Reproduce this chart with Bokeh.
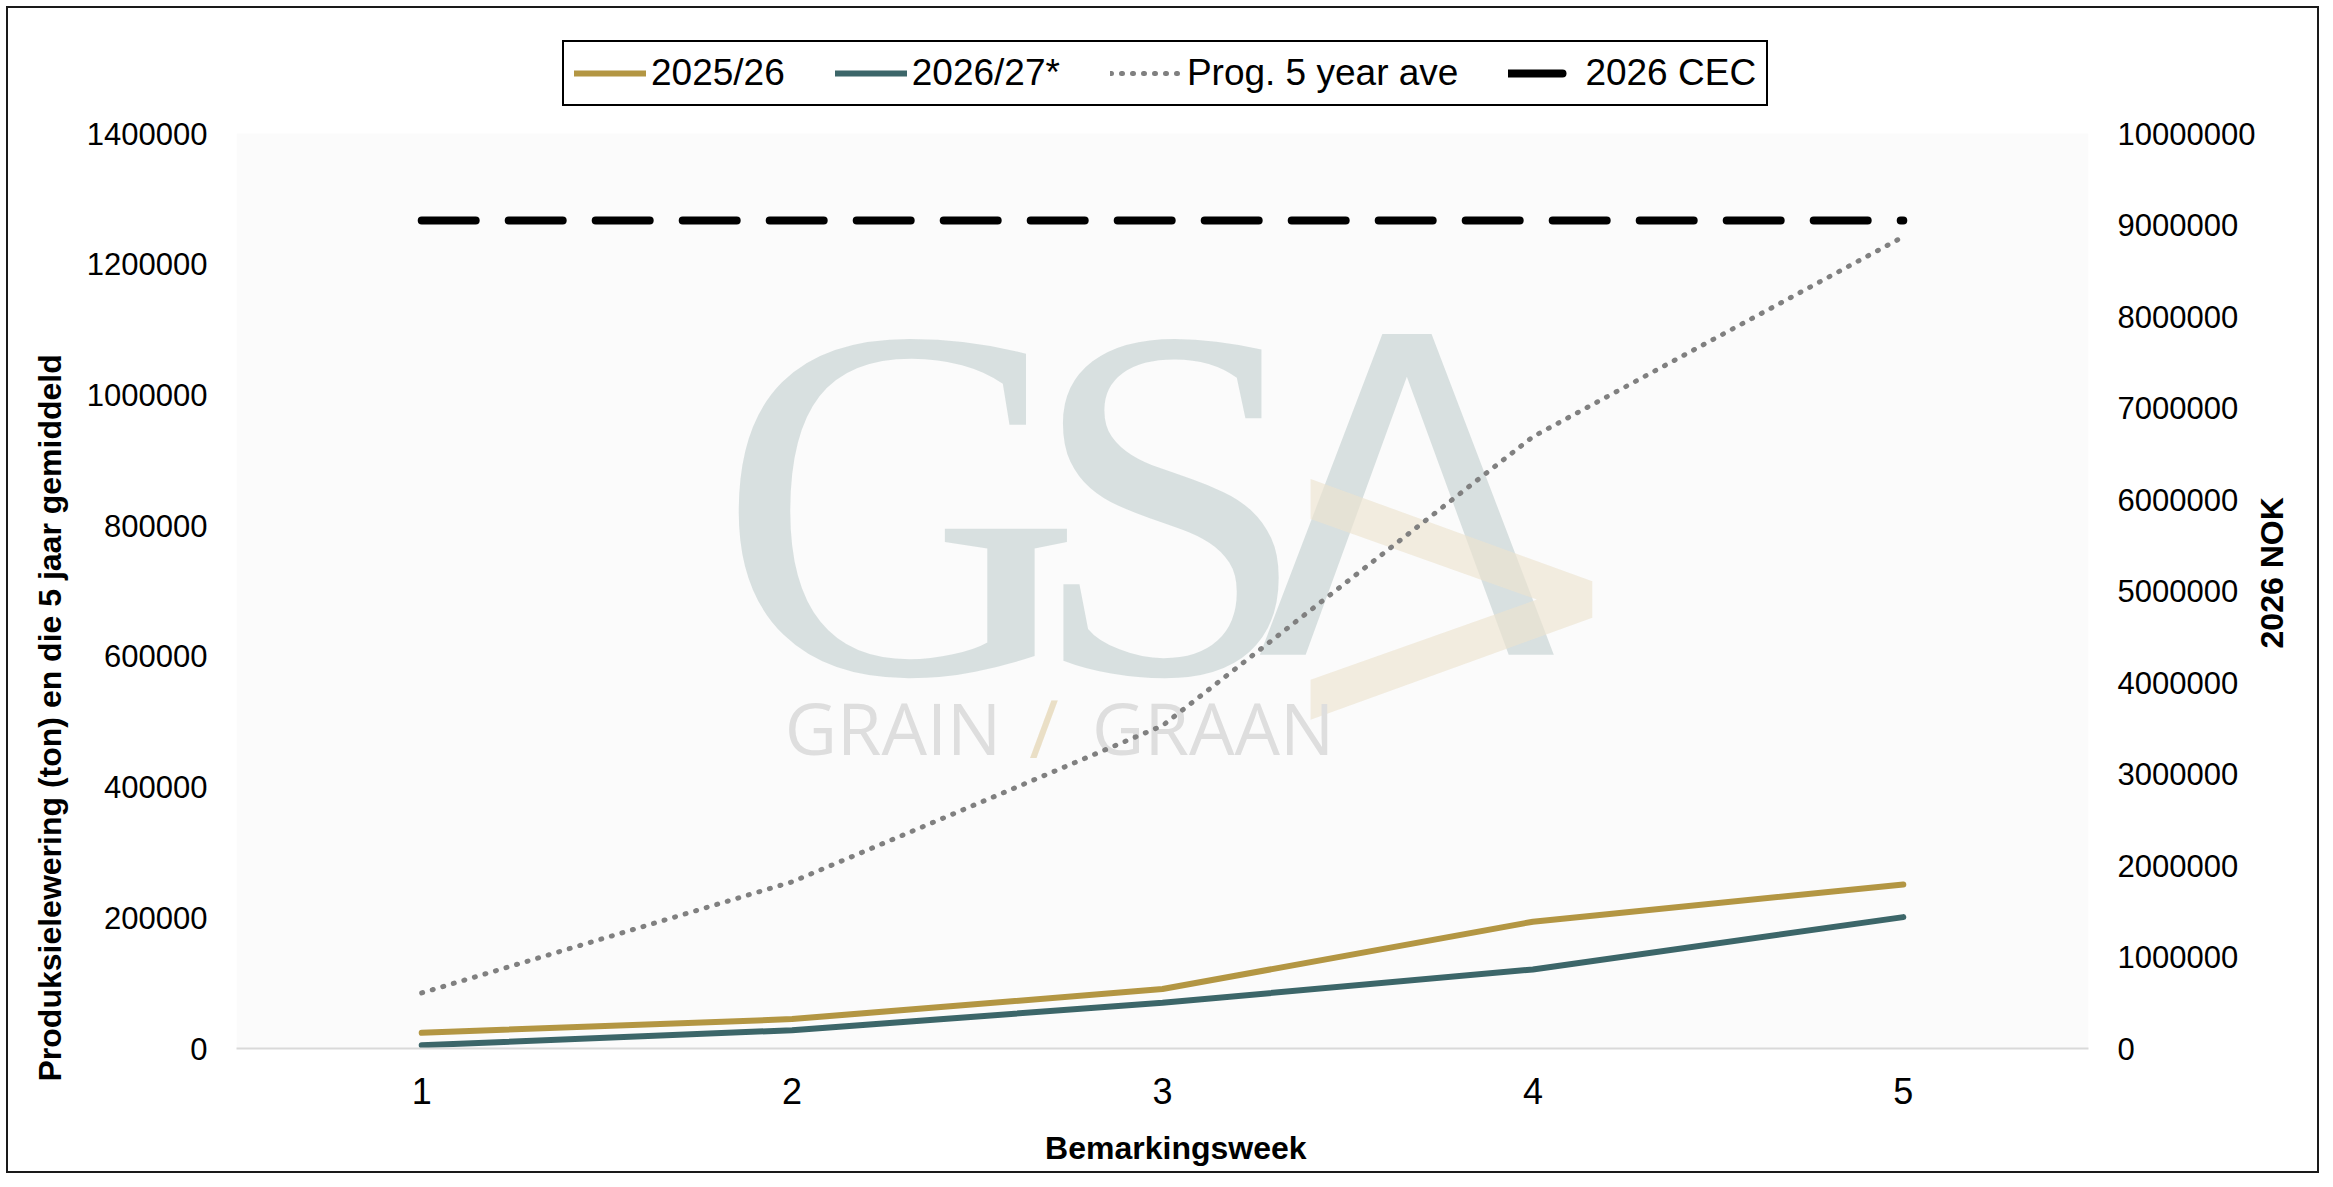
import math
from bokeh.plotting import figure
from bokeh.models import (Range1d, LinearAxis, FixedTicker, BasicTickFormatter,
                          Legend, LegendItem, BoxAnnotation)
from bokeh.core.properties import value
from bokeh.embed import file_html
from bokeh.resources import INLINE

# ---- data ----
weeks = [1, 2, 3, 4, 5]
season_2025_26 = [24000, 45000, 91000, 194000, 251000]
season_2026_27 = [5000, 28000, 70000, 121000, 201000]
prog_5yr_ave = [85000, 255000, 494000, 936000, 1242000]
cec_2026 = [9050000, 9050000, 9050000, 9050000, 9050000]   # right axis (2026 NOK)

left_ticks = [0, 200000, 400000, 600000, 800000, 1000000, 1200000, 1400000]
right_ticks = [0, 1000000, 2000000, 3000000, 4000000, 5000000,
               6000000, 7000000, 8000000, 9000000, 10000000]
LEFT_MAX = 1400000
RIGHT_MAX = 10000000

FONT = "Liberation Sans"
GOLD = "#B39643"
TEAL = "#3C6669"
GREY = "#808080"
NB = "\u00a0"

# frame is extended upward so the legend (drawn inside it) sits above the plot area
EXT = 1008 / 915

p = figure(width=2313, height=1167, output_backend="svg", toolbar_location=None,
           x_range=Range1d(0.5, 5.5), y_range=Range1d(0, LEFT_MAX * EXT),
           min_border_left=228, min_border_right=233,
           min_border_top=32, min_border_bottom=127)
p.styles = {"border": "2px solid #1a1a1a", "margin-left": "6px", "margin-top": "6px"}
p.extra_y_ranges = {"nok": Range1d(0, RIGHT_MAX * EXT)}
p.background_fill_color = "white"
p.border_fill_color = "white"
p.outline_line_color = None
p.xgrid.visible = False
p.ygrid.visible = False

# plot area shading (0 .. 1400000)
p.add_layout(BoxAnnotation(bottom=0, top=LEFT_MAX, fill_color="#FBFBFB",
                           fill_alpha=1.0, line_color=None, level="underlay"))

# ---- faint watermark (GSA Grain/Graan) ----
p.text(x=[1.80], y=[835000], text=["G"], text_font=value("Liberation Serif"),
       text_font_size="505px", text_color="#CFD9DA", text_alpha=0.8,
       text_align="left", text_baseline="middle")
p.text(x=[2.64], y=[835000], text=["S"], text_font=value("Liberation Serif"),
       text_font_size="505px", text_color="#CFD9DA", text_alpha=0.8,
       text_align="left", text_baseline="middle")
p.text(x=[3.66], y=[835000], text=["Λ"], text_font=value("DejaVu Sans"),
       text_font_size="440px", text_color="#CFD9DA", text_alpha=0.8,
       text_align="center", text_baseline="middle")
p.text(x=[3.78], y=[710000], text=[">"], text_font=value("DejaVu Sans"),
       text_font_size="450px", text_color="#EDE4CF", text_alpha=0.65,
       text_align="center", text_baseline="middle")
p.text(x=[1.98], y=[492000], text=["GRAIN"], text_font=value("Open Sans"),
       text_font_size="72px", text_color="#DEDEDE",
       text_align="left", text_baseline="middle")
p.text(x=[2.68], y=[492000], text=["/"], text_font=value("Open Sans"),
       text_font_size="80px", text_color="#EADFC6",
       text_align="center", text_baseline="middle")
p.text(x=[2.81], y=[492000], text=["GRAAN"], text_font=value("Open Sans"),
       text_font_size="72px", text_color="#DEDEDE",
       text_align="left", text_baseline="middle")

# ---- series ----
r_ave = p.line(weeks, prog_5yr_ave, line_color=GREY, line_width=5,
               line_dash="1 10", line_cap="round")
r_25 = p.line(weeks, season_2025_26, line_color=GOLD, line_width=6, line_cap="round")
r_26 = p.line(weeks, season_2026_27, line_color=TEAL, line_width=6, line_cap="round")
r_cec = p.line(weeks, cec_2026, y_range_name="nok", line_color="black",
               line_width=8, line_dash="54 33", line_cap="round")

# ---- axes ----
xa = p.xaxis[0]
xa.ticker = FixedTicker(ticks=weeks)
xa.axis_label = NB * 3 + "Bemarkingsweek"
xa.axis_line_color = "#D9D9D9"
xa.axis_line_width = 2
xa.major_tick_line_color = None
xa.minor_tick_line_color = None
xa.major_tick_out = 0
xa.major_label_standoff = 29
xa.major_label_text_font = FONT
xa.major_label_text_font_size = "36px"
xa.major_label_text_color = "black"
xa.axis_label_text_font = FONT
xa.axis_label_text_font_size = "32px"
xa.axis_label_text_font_style = "bold"
xa.axis_label_text_color = "black"
xa.axis_label_standoff = 23

ya = p.yaxis[0]
ya.ticker = FixedTicker(ticks=left_ticks)
ya.formatter = BasicTickFormatter(use_scientific=False)
ya.axis_label = "Produksielewering (ton) en die 5 jaar gemiddeld" + NB * 39
ya.axis_line_color = None
ya.major_tick_line_color = None
ya.minor_tick_line_color = None
ya.major_tick_out = 0
ya.major_label_standoff = 29
ya.major_label_text_font = FONT
ya.major_label_text_font_size = "31px"
ya.major_label_text_color = "black"
ya.axis_label_text_font = FONT
ya.axis_label_text_font_size = "32px"
ya.axis_label_text_font_style = "bold"
ya.axis_label_text_color = "black"
ya.axis_label_standoff = 16

right_label = "2026 NOK"
ra = LinearAxis(y_range_name="nok", ticker=FixedTicker(ticks=right_ticks),
                formatter=BasicTickFormatter(use_scientific=False))
ra.axis_line_color = None
ra.major_tick_line_color = None
ra.minor_tick_line_color = None
ra.major_tick_out = 0
ra.major_label_standoff = 29
ra.major_label_text_font = FONT
ra.major_label_text_font_size = "31px"
ra.major_label_text_color = "black"
ra.axis_label_text_font = FONT
ra.axis_label_text_font_size = "32px"
ra.axis_label_text_font_style = "bold"
ra.axis_label_text_color = "black"
ra.axis_label_standoff = 14
props = ra.properties()
if "axis_label_orientation" in props:
    ra.axis_label_orientation = math.pi / 2
if "axis_label_align" in props:
    ra.axis_label_align = "start"
    ra.axis_label = NB * 45 + right_label
else:
    ra.axis_label = right_label
p.add_layout(ra, "right")

# ---- legend ----
legend = Legend(items=[
    LegendItem(label="2025/26", renderers=[r_25]),
    LegendItem(label="2026/27*", renderers=[r_26]),
    LegendItem(label="Prog. 5 year ave", renderers=[r_ave]),
    LegendItem(label="2026 CEC", renderers=[r_cec]),
], orientation="horizontal", location=(326, 942),
    border_line_color="black", border_line_width=2, border_line_alpha=1.0,
    padding=10, spacing=50, margin=0,
    glyph_width=72, glyph_height=30, label_standoff=5,
    label_text_font=FONT, label_text_font_size="37px",
    label_text_color="black",
    background_fill_color="white", background_fill_alpha=1.0)
p.add_layout(legend)

open("out.html", "w").write(file_html(p, INLINE))
